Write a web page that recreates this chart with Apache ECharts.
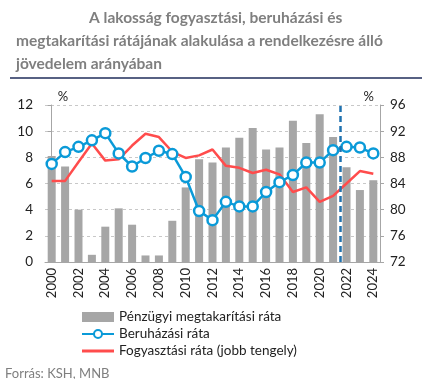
<!DOCTYPE html>
<html><head><meta charset="utf-8">
<script src="https://cdn.jsdelivr.net/npm/echarts@6/dist/echarts.min.js"></script>
<style>html,body{margin:0;padding:0;background:#fff}#c{width:424px;height:379px}</style>
</head><body><div id="c"></div>
<script>
const years = ['2000','2001','2002','2003','2004','2005','2006','2007','2008','2009','2010','2011','2012','2013','2014','2015','2016','2017','2018','2019','2020','2021','2022','2023','2024'];
const savingsRate = [8.1,7.3,4.0,0.55,2.7,4.1,2.85,0.5,0.5,3.15,5.7,7.85,7.6,8.75,9.5,10.25,8.6,8.75,10.8,9.1,11.3,9.55,7.25,5.5,6.25];
const investmentRate = [7.5,8.4,8.8,9.3,9.85,8.3,7.3,7.95,8.5,8.25,6.5,3.9,3.2,4.6,4.25,4.25,5.35,6.1,6.65,7.6,7.6,8.55,8.8,8.75,8.3];
const consumptionRate = [84.4,84.4,87.3,90.1,87.5,87.7,89.8,91.6,91.1,88.85,87.9,88.3,89.2,86.7,86.4,85.6,86.1,85.4,82.7,83.4,81.2,82.1,84.0,85.9,85.5];
const leftTicks = {min:0, max:12, interval:2};
const rightTicks = {min:72, max:96, interval:4};
const forecastBoundary = 21.5;
const names = ['Pénzügyi megtakarítási ráta','Beruházási ráta','Fogyasztási ráta (jobb tengely)'];

const chart = echarts.init(document.getElementById('c'));
const font = 'Lato, Open Sans, sans-serif';
const titleStyle = {fontSize:15.5, fontWeight:'bold', color:'#7f7f7f', fontFamily:font};
chart.setOption({
  animation:false,
  title:[
    {text:'A lakosság fogyasztási, beruházási és', left:84, top:5, textStyle:titleStyle},
    {text:'megtakarítási rátájának alakulása a rendelkezésre álló', left:11, top:28, textStyle:titleStyle},
    {text:'jövedelem arányában', left:11, top:51, textStyle:titleStyle},
    {text:'Forrás: KSH, MNB', left:0, top:362, textStyle:{fontSize:13, fontWeight:'normal', color:'#7f7f7f', fontFamily:font}}
  ],
  graphic:[{type:'line', shape:{x1:10,y1:78,x2:422,y2:78}, style:{stroke:'#1f2d5a', lineWidth:1.5}}],
  legend:{
    orient:'vertical', left:76, top:305, itemGap:3, itemWidth:32, itemHeight:10,
    textStyle:{fontSize:13.5, color:'#222', fontFamily:font},
    data:[{name:names[0], icon:'rect'}, names[1], {name:names[2], icon:'path://M0,0 H32 V3 H0 Z'}]
  },
  grid:{left:45, right:44, top:105, bottom:117},
  xAxis:[
    {type:'category', data:years, boundaryGap:true,
     axisLine:{lineStyle:{color:'#a6a6a6'}}, axisTick:{show:false},
     axisLabel:{rotate:90, interval:1, color:'#222', fontSize:13, fontFamily:font, margin:6}},
    {type:'value', min:-0.5, max:24.5, show:false}
  ],
  yAxis:[
    {type:'value', min:leftTicks.min, max:leftTicks.max, interval:leftTicks.interval,
     name:'%', nameLocation:'end', nameGap:2, nameTextStyle:{color:'#222', fontSize:13, align:'left', padding:[0,0,0,6], fontFamily:font},
     axisLine:{show:true, lineStyle:{color:'#a6a6a6'}}, axisTick:{show:true, length:4, lineStyle:{color:'#a6a6a6'}},
     axisLabel:{color:'#222', fontSize:13.5, fontFamily:font, margin:12},
     splitLine:{lineStyle:{color:'#c8c8c8', type:[3,3]}}},
    {type:'value', min:rightTicks.min, max:rightTicks.max, interval:rightTicks.interval,
     name:'%', nameLocation:'end', nameGap:2, nameTextStyle:{color:'#222', fontSize:13, align:'right', padding:[0,6,0,0], fontFamily:font},
     axisLine:{show:true, lineStyle:{color:'#a6a6a6'}}, axisTick:{show:true, length:4, lineStyle:{color:'#a6a6a6'}},
     axisLabel:{color:'#222', fontSize:13.5, fontFamily:font, margin:10},
     splitLine:{show:false}}
  ],
  series:[
    {name:names[0], type:'bar', data:savingsRate, barWidth:8, itemStyle:{color:'#a6a6a6'}, z:1},
    {name:names[1], type:'line', data:investmentRate, yAxisIndex:0, symbol:'circle', symbolSize:10, showAllSymbol:true,
     lineStyle:{color:'#0a9ad8', width:2.5}, itemStyle:{color:'#fff', borderColor:'#0a9ad8', borderWidth:2.5}, z:4},
    {name:names[2], type:'line', data:consumptionRate, yAxisIndex:1, symbol:'none',
     lineStyle:{color:'#ff4c4c', width:2.5}, itemStyle:{color:'#ff4c4c'}, z:3},
    {type:'line', xAxisIndex:1, yAxisIndex:0, data:[], silent:true,
     markLine:{symbol:'none', silent:true, label:{show:false},
       lineStyle:{color:'#1f72b0', type:[6,4], width:2.5},
       data:[{xAxis:forecastBoundary}]}}
  ]
});
</script></body></html>
